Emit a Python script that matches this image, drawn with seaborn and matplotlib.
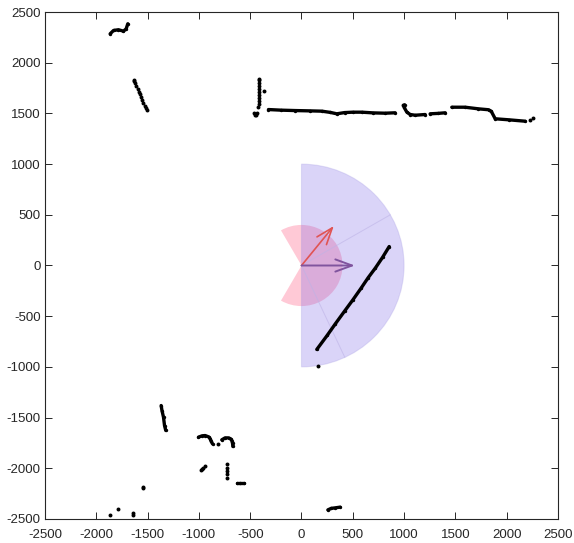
import numpy as np
import pandas as pd
import matplotlib
matplotlib.use("Agg")
import matplotlib.pyplot as plt
from matplotlib.patches import Wedge
import seaborn as sns

# ---- scan data (mm) ----
# continuous traces: (x, y) vertices
trace_top_left = [(-1865, 2285), (-1832, 2318), (-1784, 2325), (-1735, 2311), (-1709, 2334), (-1693, 2384)]
trace_wall_a = [(-322, 1538), (-200, 1532), (-62, 1528), (80, 1525), (198, 1522), (280, 1510), (344, 1496),
                (420, 1508), (500, 1512), (588, 1512), (700, 1505), (815, 1502), (913, 1506)]
trace_wall_b = [(1005, 1585), (1000, 1560), (1027, 1512), (1060, 1489), (1108, 1482), (1206, 1489)]
trace_wall_c = [(1254, 1496), (1330, 1500), (1401, 1506)]
trace_wall_d = [(1465, 1561), (1595, 1561), (1725, 1545), (1823, 1536), (1850, 1520), (1888, 1447),
                (2018, 1437), (2180, 1423)]
trace_diag = [(149, -828), (250, -690), (330, -575), (420, -450), (500, -340), (580, -225), (650, -120),
              (720, -25), (790, 80), (855, 187)]
trace_post = [(-1368, -1381), (-1360, -1430), (-1345, -1496), (-1335, -1578), (-1323, -1627)]
trace_hook_a = [(-1004, -1693), (-970, -1680), (-939, -1677), (-905, -1690), (-890, -1709), (-880, -1735), (-867, -1759)]
trace_hook_b = [(-777, -1719), (-745, -1700), (-711, -1700), (-690, -1710), (-679, -1726), (-672, -1755), (-669, -1785)]
trace_ledge = [(-630, -2147), (-600, -2147), (-565, -2147)]
trace_bottom = [(257, -2410), (290, -2395), (330, -2390), (377, -2383)]

# isolated / sparse returns
pts_x = [-1637, -1630, -1622, -1610, -1598, -1588, -1577, -1565, -1552, -1540, -1528, -1518, -1508,
         -419, -419, -418, -419, -419, -419, -419, -419, -419, -419, -420, -430, -445, -455, -460, -364,
         994, 2229, 2261,
         159,
         -809, -971, -960, -945, -975,
         -728, -729, -729, -728, -727,
         -1547, -1540, -1793, -1871, -1647, -1645]
pts_y = [1831, 1815, 1795, 1770, 1740, 1715, 1690, 1660, 1630, 1600, 1575, 1550, 1529,
         1841, 1825, 1800, 1770, 1740, 1710, 1680, 1650, 1620, 1590, 1560, 1500, 1480, 1485, 1505, 1719,
         1578, 1437, 1457,
         -996,
         -1759, -2005, -1995, -1982, -2015,
         -1956, -1995, -2028, -2061, -2094,
         -2192, -2185, -2400, -2465, -2459, -2445]

# sensor field of view and heading vectors
fov_radius = 1000
fov_span = (-90, 90)
blocked_radius = 400
blocked_span = (-120, 120)
heading_red = (315, 390)
heading_purple = (520, 0)

ticks = [-2500, -2000, -1500, -1000, -500, 0, 500, 1000, 1500, 2000, 2500]

traces = [trace_top_left, trace_wall_a, trace_wall_b, trace_wall_c, trace_wall_d, trace_diag,
          trace_post, trace_hook_a, trace_hook_b, trace_ledge, trace_bottom]
rows = []
for i, seg in enumerate(traces):
    for x, y in seg:
        rows.append({"seg": i, "x": x, "y": y})
df_lines = pd.DataFrame(rows)
df_pts = pd.DataFrame({"x": pts_x, "y": pts_y})

sns.set_theme(style="white")
plt.rcParams["font.family"] = ["Liberation Sans", "DejaVu Sans"]

fig = plt.figure(figsize=(5.74, 5.43), dpi=100)
ax = fig.add_axes([0.0784, 0.0442, 0.8937, 0.9337])

# coverage sectors
blocked = Wedge((0, 0), blocked_radius, blocked_span[0], blocked_span[1],
                facecolor=(1.0, 0.28, 0.45), alpha=0.29, edgecolor="none", zorder=1)
ax.add_patch(blocked)
fov = Wedge((0, 0), fov_radius, fov_span[0], fov_span[1],
            facecolor=(0.45, 0.36, 0.9), alpha=0.26, edgecolor=(0.62, 0.58, 0.88), lw=0.8, zorder=2)
ax.add_patch(fov)
for ang in (30, -65):
    a = np.deg2rad(ang)
    ax.plot([0, fov_radius * np.cos(a)], [0, fov_radius * np.sin(a)],
            color=(0.74, 0.70, 0.9), lw=0.7, alpha=0.6, zorder=2)

# heading arrows
ax.annotate("", xy=heading_red, xytext=(0, 0),
            arrowprops=dict(arrowstyle="->,head_length=0.6,head_width=0.22", color=(0.88, 0.33, 0.33),
                            lw=1.2, mutation_scale=20, shrinkA=0, shrinkB=0), zorder=4)
ax.annotate("", xy=heading_purple, xytext=(0, 0),
            arrowprops=dict(arrowstyle="->,head_length=0.6,head_width=0.22", color=(0.5, 0.33, 0.62),
                            lw=1.4, mutation_scale=20, shrinkA=0, shrinkB=0), zorder=4)

# scan returns
sns.lineplot(data=df_lines, x="x", y="y", units="seg", estimator=None, sort=False,
             color="black", lw=2.4, ax=ax, zorder=5, legend=False,
             solid_capstyle="round", solid_joinstyle="round")
sns.scatterplot(data=df_lines, x="x", y="y", color="black", s=6, linewidth=0, ax=ax, zorder=5, legend=False)
sns.scatterplot(data=df_pts, x="x", y="y", color="black", s=8, linewidth=0, ax=ax, zorder=5, legend=False)

ax.set_xlim(-2500, 2500)
ax.set_ylim(-2500, 2500)
ax.set_xticks(ticks)
ax.set_yticks(ticks)
ax.set_xticklabels([str(t) for t in ticks])
ax.set_yticklabels([str(t) for t in ticks])
ax.set_xlabel("")
ax.set_ylabel("")
ax.tick_params(direction="in", length=5, width=0.7, colors="#262626", labelsize=9.5,
               top=True, right=True, bottom=True, left=True)
ax.tick_params(axis="x", pad=7)
ax.tick_params(axis="y", pad=3)
for sp in ax.spines.values():
    sp.set_visible(True)
    sp.set_color("#262626")
    sp.set_linewidth(0.8)

fig.savefig("out.png", dpi=100)
